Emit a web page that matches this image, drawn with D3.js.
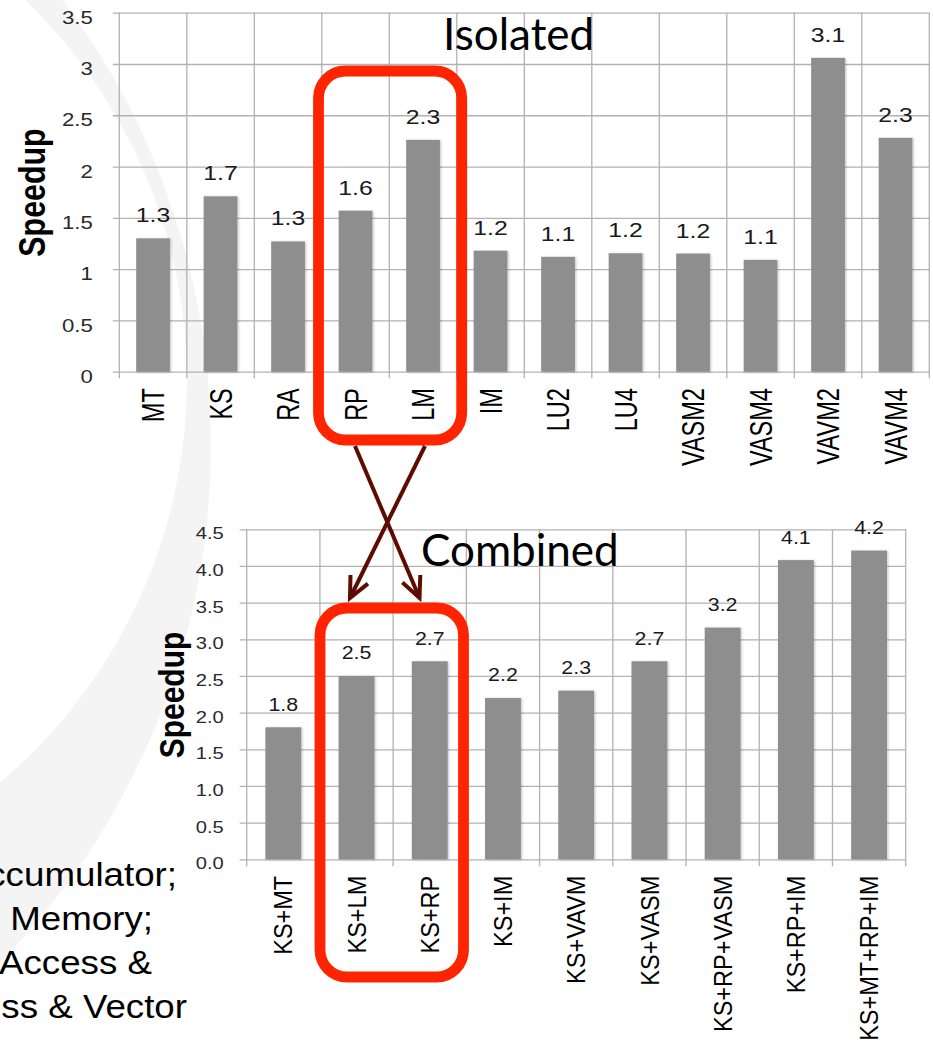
<!DOCTYPE html>
<html><head><meta charset="utf-8">
<script src="https://cdn.jsdelivr.net/npm/d3@7"></script>
<style>body{margin:0;background:#fff} svg{display:block}</style>
</head><body>
<script>
// ---------- DATA ----------
const isoCategories = ["MT","KS","RA","RP","LM","IM","LU2","LU4","VASM2","VASM4","VAVM2","VAVM4"];
const isoValues     = [1.30, 1.71, 1.27, 1.57, 2.26, 1.18, 1.12, 1.155, 1.152, 1.09, 3.06, 2.28];
const isoTicks      = [0, 0.5, 1, 1.5, 2, 2.5, 3, 3.5];
const isoTickLabels = ["0","0.5","1","1.5","2","2.5","3","3.5"];

const combCategories = ["KS+MT","KS+LM","KS+RP","KS+IM","KS+VAVM","KS+VASM","KS+RP+VASM","KS+RP+IM","KS+MT+RP+IM"];
const combValues     = [1.80, 2.50, 2.70, 2.20, 2.30, 2.70, 3.16, 4.08, 4.21];
const combTicks      = [0, 0.5, 1, 1.5, 2, 2.5, 3, 3.5, 4, 4.5];
const combTickLabels = ["0.0","0.5","1.0","1.5","2.0","2.5","3.0","3.5","4.0","4.5"];

const titles = ["Isolated", "Combined"];
const yTitle = "Speedup";
const legendLines = ["ccumulator;", " Memory;", "Access &", "ss & Vector"];

// ---------- SETUP ----------
const W = 933, H = 1044;
const SANS = "'Liberation Sans', Arial, Helvetica, sans-serif";
const GRID = "#b2b2b2";
const BAR = "#8e8e8e";
const RED = "#ff2400";
const DARKRED = "#5e0b00";

const svg = d3.select("body").append("svg").attr("width", W).attr("height", H);
const defs = svg.append("defs");
const f = defs.append("filter").attr("id","shadow").attr("x","-20%").attr("y","-5%").attr("width","140%").attr("height","110%");
f.append("feDropShadow").attr("dx",1.2).attr("dy",0.5).attr("stdDeviation",1.3)
  .attr("flood-color","#000").attr("flood-opacity",0.22);

// background swoosh (crescent)
function circlePath(cx, cy, r){
  return `M${cx-r},${cy}a${r},${r} 0 1,0 ${2*r},0a${r},${r} 0 1,0 ${-2*r},0Z`;
}
svg.append("path")
  .attr("d", circlePath(-530, 445, 741) + circlePath(-339.7, 380, 526.7))
  .attr("fill-rule","evenodd").attr("fill","#f4f4f4");

function drawChart(cfg){
  const g = svg.append("g");
  const x = d3.scaleBand().domain(cfg.cats).range([cfg.x0, cfg.x1]).padding(0);
  const y = d3.scaleLinear().domain([0, cfg.max]).range([cfg.y0, cfg.y1]);

  // horizontal gridlines + y tick labels
  const ya = d3.axisLeft(y).tickValues(cfg.ticks)
    .tickFormat((d,i) => cfg.tickLabels[i])
    .tickSize(-(cfg.x1 - cfg.x0)).tickPadding(0);
  const yg = g.append("g").attr("transform", `translate(${cfg.x0},0)`).call(ya);
  yg.select(".domain").remove();
  yg.selectAll(".tick line").attr("x1", -cfg.tickLen).attr("stroke", GRID).attr("stroke-width", 1.3);
  yg.selectAll(".tick text")
    .attr("x", 0).attr("dy", "0.36em").attr("text-anchor", "end")
    .attr("transform", `translate(${-cfg.yLabGap},${cfg.yLabDy}) scale(${cfg.yLabKx},1)`)
    .style("font-family", SANS).style("font-size", cfg.yLabSize + "px").attr("fill", "#2a2a2a");

  // vertical gridlines at category boundaries
  const bounds = cfg.cats.map(c => x(c)).concat([cfg.x1]);
  g.append("g").selectAll("line").data(bounds).join("line")
    .attr("x1", d => d).attr("x2", d => d)
    .attr("y1", cfg.y1).attr("y2", cfg.y0 + cfg.tickLen)
    .attr("stroke", GRID).attr("stroke-width", 1.3);

  // bars
  const bw = x.bandwidth() * cfg.barFrac;
  g.append("g").selectAll("rect").data(cfg.values).join("rect")
    .attr("x", (d,i) => x(cfg.cats[i]) + (x.bandwidth() - bw) / 2)
    .attr("width", bw)
    .attr("y", d => y(d))
    .attr("height", d => y(0) - y(d))
    .attr("fill", BAR).attr("filter", "url(#shadow)");

  // value labels
  const fmt = d3.format(".1f");
  g.append("g").selectAll("text").data(cfg.values).join("text")
    .attr("transform", (d,i) => `translate(${x(cfg.cats[i]) + x.bandwidth()/2},${y(d) - cfg.valGap}) scale(${cfg.valKx},1)`)
    .attr("text-anchor", "middle")
    .style("font-family", SANS).style("font-size", cfg.valSize + "px").attr("fill", "#1a1a1a")
    .text(d => fmt(d));

  // x axis category labels
  const xg = g.append("g").attr("transform", `translate(0,${cfg.y0})`)
    .call(d3.axisBottom(x).tickSize(0).tickPadding(0));
  xg.select(".domain").remove();
  xg.selectAll(".tick text")
    .attr("x", 0).attr("y", 0).attr("dy", "0.36em").attr("text-anchor", "end")
    .attr("transform", `translate(0,${cfg.xLabGap}) rotate(-90) scale(1,${cfg.xLabK})`)
    .style("font-family", SANS).style("font-size", cfg.xLabSize + "px").attr("fill", "#000");

  // y axis title
  g.append("text")
    .attr("transform", `translate(${cfg.titleX},${cfg.titleY}) rotate(-90) scale(1,${cfg.titleK})`)
    .attr("text-anchor", "middle")
    .style("font-family", SANS).style("font-weight", "bold").style("font-size", cfg.titleSize + "px")
    .attr("fill", "#000").text(yTitle);

  // chart title
  g.append("text").attr("x", cfg.headX).attr("y", cfg.headY)
    .style("font-family", "Lato, 'Open Sans', sans-serif").style("font-size", "44px")
    .attr("fill", "#000").text(cfg.head);
  return {x, y};
}

drawChart({
  cats: isoCategories, values: isoValues, ticks: isoTicks, tickLabels: isoTickLabels, max: 3.5,
  x0: 119.3, x1: 929.3, y0: 371.7, y1: 12.7, tickLen: 6.5, barFrac: 0.5,
  yLabGap: 26.5, yLabDy: 4, yLabKx: 1.2, yLabSize: 18.5,
  valGap: 16, valKx: 1.18, valSize: 21,
  xLabGap: 16.5, xLabK: 1.3, xLabSize: 23.5,
  titleX: 45, titleY: 192.5, titleK: 1.2, titleSize: 30.4,
  head: titles[0], headX: 443, headY: 50
});

drawChart({
  cats: combCategories, values: combValues, ticks: combTicks, tickLabels: combTickLabels, max: 4.5,
  x0: 246.7, x1: 905.7, y0: 859.3, y1: 529.3, tickLen: 7, barFrac: 0.49,
  yLabGap: 23, yLabDy: 3.5, yLabKx: 1.2, yLabSize: 16.8,
  valGap: 16.5, valKx: 1.15, valSize: 18.6,
  xLabGap: 16.5, xLabK: 1.08, xLabSize: 23.5,
  titleX: 183.5, titleY: 695, titleK: 1.15, titleSize: 30,
  head: titles[1], headX: 421, headY: 566
});

// legend fragments (cut off at left edge, as in the source slide)
const legendRight = [177, 153, 152, 187];
svg.append("g").selectAll("text").data(legendLines).join("text")
  .attr("transform", (d,i) => `translate(${legendRight[i]},${886 + i*44.1}) scale(1.08,1)`)
  .attr("text-anchor", "end").attr("xml:space","preserve")
  .style("font-family", SANS).style("font-size", "34px").attr("fill", "#000")
  .text(d => d);

// red highlight boxes
const boxes = [
  {x: 318.5, y: 71, w: 461.7 - 318.5, h: 440 - 71},
  {x: 320, y: 608, w: 463.5 - 320, h: 977 - 608}
];
svg.append("g").selectAll("rect").data(boxes).join("rect")
  .attr("x", d => d.x).attr("y", d => d.y).attr("width", d => d.w).attr("height", d => d.h)
  .attr("rx", 27).attr("ry", 27)
  .attr("fill", "none").attr("stroke", RED).attr("stroke-width", 10.8);

// crossing arrows
const arrows = [
  {x1: 355, y1: 446, x2: 419.5, y2: 598},
  {x1: 425, y1: 446, x2: 350, y2: 598}
];
const ag = svg.append("g").attr("stroke", DARKRED).attr("stroke-width", 4).attr("fill", "none");
arrows.forEach(a => {
  ag.append("line").attr("x1", a.x1).attr("y1", a.y1).attr("x2", a.x2).attr("y2", a.y2);
  const ang = Math.atan2(a.y1 - a.y2, a.x1 - a.x2);
  const L = 23, spread = 25 * Math.PI / 180;
  const p1 = [a.x2 + L*Math.cos(ang - spread), a.y2 + L*Math.sin(ang - spread)];
  const p2 = [a.x2 + L*Math.cos(ang + spread), a.y2 + L*Math.sin(ang + spread)];
  ag.append("path").attr("d", `M${p1[0]},${p1[1]}L${a.x2},${a.y2}L${p2[0]},${p2[1]}`)
    .attr("stroke-linejoin", "miter");
});
</script>
</body></html>
